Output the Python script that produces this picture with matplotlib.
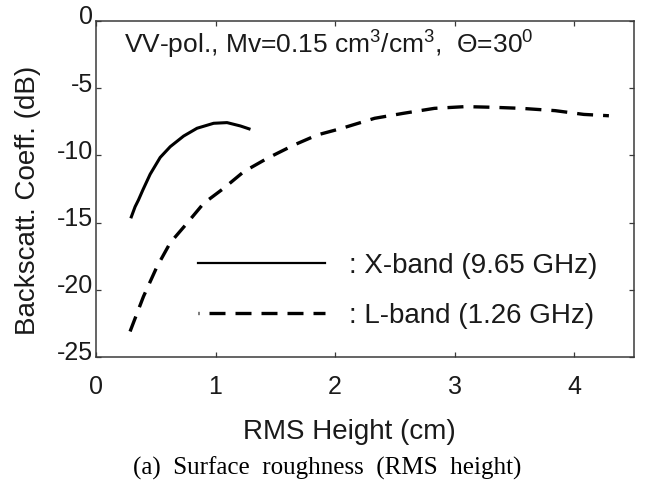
import matplotlib
matplotlib.use('Agg')
import matplotlib.pyplot as plt
from matplotlib.lines import Line2D
import matplotlib.transforms as mtransforms

# ---- data ----
x_band_h = [0.291, 0.327, 0.355, 0.392, 0.453, 0.537, 0.621, 0.733, 0.845, 0.984, 1.096, 1.208, 1.292]
x_band_db = [-14.68, -13.82, -13.32, -12.57, -11.40, -10.15, -9.35, -8.56, -7.98, -7.61, -7.56, -7.81, -8.06]

l_band_h = [0.285, 0.397, 0.509, 0.621, 0.761, 0.90, 1.068, 1.236, 1.432, 1.655, 1.85, 2.05,
            2.33, 2.57, 2.83, 3.09, 3.32, 3.56, 3.84, 4.08, 4.29]
l_band_db = [-23.1, -20.5, -18.3, -16.5, -15.05, -13.57, -12.45, -11.21, -10.22, -9.23, -8.48, -8.0,
             -7.24, -6.87, -6.5, -6.37, -6.42, -6.5, -6.67, -6.95, -7.05]

x_ticks = [0, 1, 2, 3, 4]
x_tick_labels = ['0', '1', '2', '3', '4']
y_ticks = [0, -5, -10, -15, -20, -25]
y_tick_labels = ['0', '-5', '-10', '-15', '-20', '-25']

legend_labels = [': X-band (9.65 GHz)', ': L-band (1.26 GHz)']
annotation = r'VV-pol., Mv=0.15 cm$^{3}$/cm$^{3}$,  $\Theta$=30$^{0}$'
x_label = 'RMS Height (cm)'
y_label = 'Backscatt. Coeff. (dB)'
caption = '(a)  Surface  roughness  (RMS  height)'

# ---- style ----
plt.rcParams['font.family'] = ['Liberation Sans', 'DejaVu Sans']
plt.rcParams['mathtext.fontset'] = 'custom'
plt.rcParams['mathtext.rm'] = 'Liberation Sans'
plt.rcParams['mathtext.it'] = 'Liberation Sans'
plt.rcParams['mathtext.default'] = 'regular'
plt.rcParams['axes.unicode_minus'] = False

W, H = 648, 487
fig = plt.figure(figsize=(W / 100, H / 100), dpi=100)
L, R, T, B = 96, 634, 21, 357
ax = fig.add_axes([L / W, 1 - B / H, (R - L) / W, (B - T) / H])

ax.plot(x_band_h, x_band_db, color='black', lw=2.2, solid_capstyle='butt')
ax.plot(l_band_h, l_band_db, color='black', lw=2.4, linestyle=(0, (4.8, 3.0)), dash_capstyle='butt')

ax.set_xlim(0, 4.5)
ax.set_ylim(-25, 0)
ax.set_xticks(x_ticks)
ax.set_xticklabels(x_tick_labels)
ax.set_yticks(y_ticks)
ax.set_yticklabels(y_tick_labels)

text_color = '#1a1a1a'
spine_color = '#3a3a3a'
for s in ax.spines.values():
    s.set_color(spine_color)
    s.set_linewidth(1.1)
ax.tick_params(direction='in', top=True, right=True, length=3.6, width=0.9,
               color=spine_color, labelsize=18, labelcolor=text_color)
ax.tick_params(axis='x', pad=13)
ax.tick_params(axis='y', pad=2)

off = mtransforms.ScaledTranslation(0, 6 / 100, fig.dpi_scale_trans)
for lab in ax.get_yticklabels():
    lab.set_transform(lab.get_transform() + off)

ax.set_xlabel(x_label, fontsize=20, color=text_color, va='center')
ax.xaxis.set_label_coords((349 - L) / (R - L), (B - 432) / (B - T))
ax.set_ylabel(y_label, fontsize=20, color=text_color, va='center')
ax.yaxis.set_label_coords((28 - L) / (R - L), (B - 200) / (B - T))

ax.text((124 - L) / 119.2, -(45 - T) / 13.44, annotation, fontsize=19,
        color=text_color, va='center', ha='left')

h1 = Line2D([], [], color='black', lw=1.6)
h2 = Line2D([], [], color='black', lw=2.4, linestyle=(4.5, (4.8, 3.0)), dash_capstyle='butt')
leg = ax.legend([h1, h2], legend_labels, loc='upper left', frameon=False,
                bbox_to_anchor=(198 / W, 1 - 253 / H), bbox_transform=fig.transFigure,
                fontsize=20, handlelength=4.57, handletextpad=0.85, labelspacing=0.85,
                borderpad=0, borderaxespad=0)
for t in leg.get_texts():
    t.set_color(text_color)

fig.text(327 / W, 1 - 468 / H, caption, family='Liberation Serif', fontsize=18,
         ha='center', va='center', color='black')

fig.savefig('out.png', dpi=100)
